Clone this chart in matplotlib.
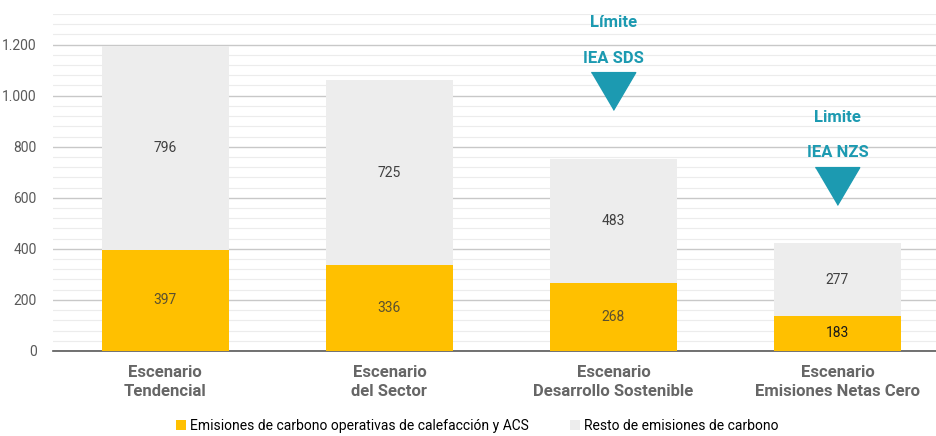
import matplotlib
matplotlib.use("Agg")
import matplotlib.pyplot as plt
from matplotlib import font_manager
from matplotlib.ticker import FuncFormatter, MultipleLocator
import numpy as np

# data
escenarios = ["Escenario\nTendencial", "Escenario\ndel Sector",
              "Escenario\nDesarrollo Sostenible", "Escenario\nEmisiones Netas Cero"]
calefaccion = [397, 336, 268, 138]
calefaccion_txt = ["397", "336", "268", "183"]
resto = [796, 725, 483, 283]
resto_txt = ["796", "725", "483", "277"]
limite_txt = [None, None, "Límite\n\nIEA SDS", "Limite\n\nIEA NZS"]
limite_y = [None, None, 1017, 648]

names = {f.name for f in font_manager.fontManager.ttflist}
narrow = "Liberation Sans Narrow" if "Liberation Sans Narrow" in names else "Roboto"
plt.rcParams["font.family"] = ["Roboto", "DejaVu Sans"]

AMARILLO = "#FFC000"
GRIS = "#EDEDED"
TEAL = "#1C9AB1"

fig = plt.figure(figsize=(9.36, 4.36), dpi=100)
ax = fig.add_axes([0.057, 0.195, 0.943, 0.773])

x = np.arange(len(escenarios))
w = 0.57
ax.bar(x, calefaccion, w, color=AMARILLO, zorder=3,
       label="Emisiones de carbono operativas de calefacción y ACS")
ax.bar(x, resto, w, bottom=calefaccion, color=GRIS, zorder=3,
       label="Resto de emisiones de carbono")

for i in range(len(x)):
    ax.text(x[i], calefaccion[i] / 2, calefaccion_txt[i], ha="center", va="center",
            fontsize=10, color="#1a1a1a" if i == 3 else "#5a5030", zorder=4)
    ax.text(x[i], calefaccion[i] + resto[i] / 2, resto_txt[i], ha="center", va="center",
            fontsize=10, color="#404040", zorder=4)
    if limite_y[i] is not None:
        ax.plot(x[i], limite_y[i], marker=[(-1, 0.85), (1, 0.85), (0, -0.85)],
                markersize=32, color=TEAL, zorder=4)
        t1, _, t2 = limite_txt[i].split("\n")
        ax.text(x[i], limite_y[i] + 268, t1, ha="center", va="center", fontsize=12,
                fontweight="bold", color=TEAL, family=narrow)
        ax.text(x[i], limite_y[i] + 128, t2, ha="center", va="center", fontsize=12,
                fontweight="bold", color=TEAL, family=narrow)

ax.set_ylim(0, 1320)
ax.set_xlim(-0.5, 3.44)
ax.yaxis.set_major_locator(MultipleLocator(200))
ax.yaxis.set_minor_locator(MultipleLocator(40))
ax.yaxis.set_major_formatter(FuncFormatter(lambda v, p: f"{int(v):,}".replace(",", ".")))
ax.grid(axis="y", which="major", color="#c8c8c8", lw=1, zorder=0)
ax.grid(axis="y", which="minor", color="#ececec", lw=0.8, zorder=0)
ax.tick_params(axis="y", which="both", length=0, labelsize=10, labelcolor="#595959", pad=12)
ax.tick_params(axis="x", length=0, pad=10)
ax.set_xticks(x)
ax.set_xticklabels(escenarios, fontsize=12, fontweight="bold", color="#666666",
                   family=narrow, linespacing=1.35)
for s in ["top", "right", "left"]:
    ax.spines[s].set_visible(False)
ax.spines["bottom"].set_color("#595959")
ax.spines["bottom"].set_linewidth(1.2)

fig.legend(loc="lower center", bbox_to_anchor=(0.51, -0.022), ncol=2, frameon=False,
           prop={"family": narrow, "size": 10}, handlelength=0.7, handleheight=0.7,
           handletextpad=0.3, columnspacing=3)

fig.savefig("out.png", dpi=100)
